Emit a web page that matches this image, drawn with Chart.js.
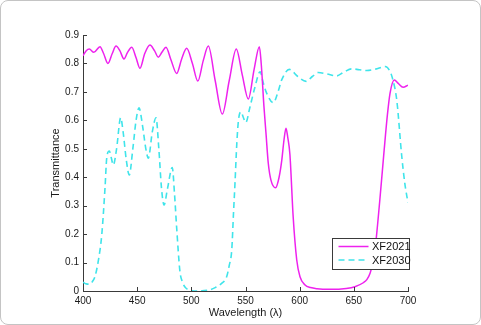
<!DOCTYPE html>
<html>
<head>
<meta charset="utf-8">
<script src="https://cdn.jsdelivr.net/npm/chart.js@4.4.0/dist/chart.umd.min.js"></script>
<style>
	html, body { margin: 0; padding: 0; background: #fff; }
	#wrap { position: relative; width: 481px; height: 325px; }
	#frame { position: absolute; left: 0; top: 0; width: 481px; height: 325px; box-sizing: border-box;
		border: 1px solid #c4c4c4; border-radius: 8px; pointer-events: none; }
</style>
</head>
<body>
<div id="wrap">
	<canvas id="myChart" width="481" height="325"></canvas>
	<div id="frame"></div>
</div>
<script>
// wavelength (nm) / transmittance
var xf2021Wave = [400, 403, 405.8, 410, 415.7, 419, 423, 427, 430.5, 434, 437.8, 441, 445, 449, 452.6, 457, 461.8,
	466, 469.5, 473, 476.6, 481, 486.5, 491, 495.7, 501, 506, 511, 515.7, 522, 528.6, 535, 541.5, 547, 552.6,
	558, 562.8, 564.5, 567, 569, 571, 573.5, 577.8, 581, 583.5, 585.5, 587.4, 589, 591, 594, 597.3, 600.3,
	605, 610, 616, 628, 643, 651, 658.7, 662, 665, 667.5, 669.5, 674, 678, 681, 683.4, 687.4, 691, 695.5, 700];
var xf2021Trans = [0.827, 0.845, 0.851, 0.839, 0.859, 0.835, 0.800, 0.835, 0.861, 0.845, 0.816, 0.838, 0.857, 0.820,
	0.783, 0.835, 0.865, 0.845, 0.822, 0.840, 0.857, 0.815, 0.765, 0.815, 0.853, 0.800, 0.738, 0.810, 0.861,
	0.740, 0.622, 0.740, 0.851, 0.760, 0.675, 0.780, 0.859, 0.800, 0.650, 0.550, 0.450, 0.390, 0.363, 0.400,
	0.460, 0.530, 0.572, 0.540, 0.480, 0.261, 0.109, 0.050, 0.021, 0.012, 0.008, 0.006, 0.009, 0.015, 0.029,
	0.040, 0.062, 0.100, 0.144, 0.320, 0.496, 0.620, 0.695, 0.742, 0.730, 0.716, 0.724];

var xf2030Wave = [400, 403, 406.5, 409, 411, 414, 417.3, 420.3, 421.9, 424.3, 426, 428, 431, 434.8, 437, 440, 442.7,
	446, 449, 451.7, 455, 458, 460.3, 464, 467.4, 470, 472.5, 474.8, 478, 482.4, 484.5, 486.5, 489.5, 492,
	494.5, 500, 505, 510, 517, 522, 528, 532.6, 535, 537.3, 539, 540.3, 542, 543.5, 545.8, 548, 550.2, 554.2,
	558.8, 563.5, 566.5, 569.6, 575.7, 580, 583.4, 590.5, 598, 606, 612, 617, 625, 634, 641, 648, 655, 662,
	670, 679, 683, 685.5, 689.6, 694.2, 697, 700];
var xf2030Trans = [0.031, 0.025, 0.024, 0.035, 0.050, 0.103, 0.197, 0.361, 0.467, 0.492, 0.470, 0.443, 0.500, 0.609,
	0.560, 0.460, 0.408, 0.500, 0.600, 0.644, 0.580, 0.500, 0.467, 0.560, 0.609, 0.500, 0.360, 0.302, 0.360,
	0.434, 0.340, 0.220, 0.068, 0.030, 0.012, 0.002, 0.000, 0.001, 0.004, 0.012, 0.027, 0.050, 0.090, 0.144,
	0.280, 0.379, 0.520, 0.600, 0.630, 0.610, 0.592, 0.648, 0.718, 0.771, 0.730, 0.695, 0.662, 0.700, 0.742,
	0.779, 0.755, 0.737, 0.755, 0.768, 0.763, 0.756, 0.770, 0.781, 0.778, 0.775, 0.780, 0.789, 0.775, 0.750,
	0.672, 0.475, 0.380, 0.310];

var seriesNames = ["XF2021", "XF2030"];
var xTicks = [400, 450, 500, 550, 600, 650, 700];
var yTicks = [0, 0.1, 0.2, 0.3, 0.4, 0.5, 0.6, 0.7, 0.8, 0.9];

var FONT = "'Liberation Sans', Arial, Helvetica, sans-serif";
var AXIS_COLOR = "#3a3a3a";

function toPoints(xs, ys){
	var pts = [];
	for (var i = 0; i < xs.length; i++){
		pts.push({x: xs[i], y: ys[i]});
	}
	return pts;
}

//matlab style ticks pointing into the plot
var innerTicks = {
	id: "innerTicks",
	afterDraw: function(chart){
		var ctx = chart.ctx, a = chart.chartArea;
		var xs = chart.scales.x, ys = chart.scales.y;
		ctx.save();
		ctx.strokeStyle = AXIS_COLOR;
		ctx.lineWidth = 1;
		ctx.beginPath();
		xTicks.forEach(function(v){
			var px = Math.round(xs.getPixelForValue(v)) + 0.5;
			ctx.moveTo(px, a.bottom);
			ctx.lineTo(px, a.bottom - 4);
		});
		yTicks.forEach(function(v){
			var py = Math.round(ys.getPixelForValue(v)) + 0.5;
			ctx.moveTo(a.left, py);
			ctx.lineTo(a.left + 4, py);
		});
		ctx.stroke();
		ctx.restore();
	}
};

//legend box inside the lower right corner
var boxLegend = {
	id: "boxLegend",
	afterDraw: function(chart){
		var ctx = chart.ctx, a = chart.chartArea;
		var w = 77, h = 31;
		var left = a.right + 1 - w, top = a.bottom - 22 - h;
		ctx.save();
		ctx.fillStyle = "#fff";
		ctx.fillRect(left, top, w, h);
		ctx.strokeStyle = AXIS_COLOR;
		ctx.lineWidth = 1;
		ctx.strokeRect(Math.round(left) + 0.5, Math.round(top) + 0.5, w, h);
		ctx.font = "11px " + FONT;
		ctx.textBaseline = "middle";
		chart.data.datasets.forEach(function(ds, i){
			var rowY = top + 8.5 + i * 13.5;
			ctx.strokeStyle = ds.borderColor;
			ctx.lineWidth = ds.borderWidth;
			ctx.setLineDash(ds.borderDash || []);
			ctx.beginPath();
			ctx.moveTo(left + 6.5, rowY);
			ctx.lineTo(left + 36.5, rowY);
			ctx.stroke();
			ctx.setLineDash([]);
			ctx.fillStyle = "#111";
			ctx.fillText(ds.label, left + 40, rowY + 0.5);
		});
		ctx.restore();
	}
};

var ctx = document.getElementById("myChart").getContext("2d");
var myChart = new Chart(ctx, {
	type: "line",
	data: {
		datasets: [
			{
				label: seriesNames[0],
				data: toPoints(xf2021Wave, xf2021Trans),
				borderColor: "#ee22ee",
				borderWidth: 1.5,
				pointRadius: 0,
				fill: false,
				cubicInterpolationMode: "monotone"
			},
			{
				label: seriesNames[1],
				data: toPoints(xf2030Wave, xf2030Trans),
				borderColor: "#3fe4ea",
				borderWidth: 1.6,
				borderDash: [6, 4],
				pointRadius: 0,
				fill: false,
				cubicInterpolationMode: "monotone"
			}
		]
	},
	options: {
		responsive: false,
		animation: false,
		devicePixelRatio: 1,
		layout: {padding: {left: 0, right: 73, top: 35, bottom: 0}},
		plugins: {legend: {display: false}, tooltip: {enabled: false}},
		scales: {
			x: {
				type: "linear",
				min: 400,
				max: 700,
				afterFit: function(scale){ scale.height = 34; },
				afterBuildTicks: function(scale){
					scale.ticks = xTicks.map(function(v){ return {value: v}; });
				},
				ticks: {color: "#1a1a1a", font: {family: FONT, size: 10}, padding: 4, maxRotation: 0},
				grid: {drawOnChartArea: false, drawTicks: false},
				border: {color: AXIS_COLOR, width: 1},
				title: {display: true, text: "Wavelength (λ)", color: "#1a1a1a",
					font: {family: FONT, size: 11}, padding: {top: 0, bottom: 5}}
			},
			y: {
				min: 0,
				max: 0.9,
				afterFit: function(scale){ scale.width = 83; },
				afterBuildTicks: function(scale){
					scale.ticks = yTicks.map(function(v){ return {value: v}; });
				},
				ticks: {
					color: "#1a1a1a", font: {family: FONT, size: 10}, padding: 4,
					callback: function(v){ return v == 0 ? "0" : v.toFixed(1); }
				},
				grid: {drawOnChartArea: false, drawTicks: false},
				border: {color: AXIS_COLOR, width: 1},
				title: {display: true, text: "Transmittance", color: "#1a1a1a",
					font: {family: FONT, size: 11}, padding: {top: 49, bottom: 0}}
			}
		}
	},
	plugins: [innerTicks, boxLegend]
});
</script>
</body>
</html>
